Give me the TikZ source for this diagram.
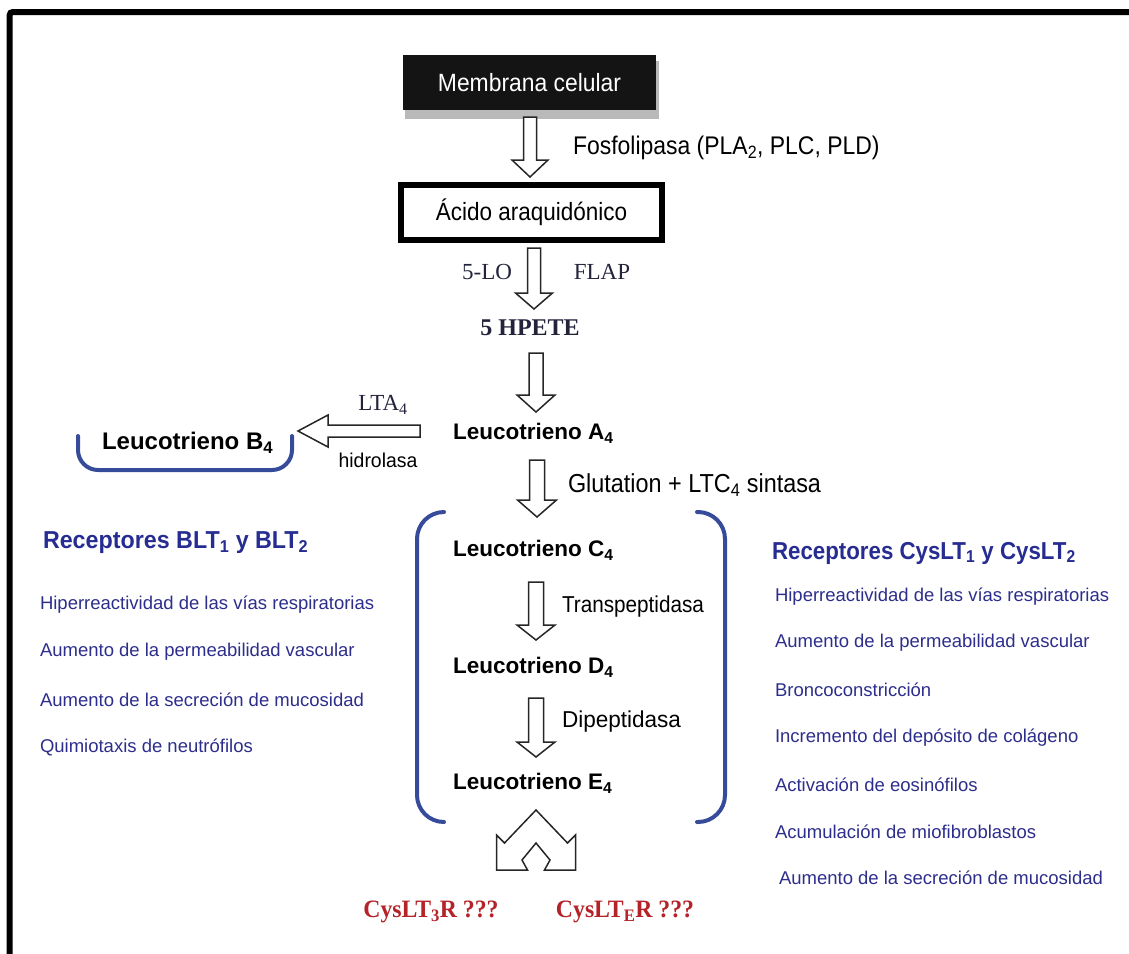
\documentclass[tikz,border=0pt]{standalone}
\usepackage{fontspec}
\setmainfont{Liberation Sans}
\newfontfamily\serifface{Liberation Serif}
\usetikzlibrary{calc}

\definecolor{itemblue}{RGB}{45,45,140}
\definecolor{headblue}{RGB}{38,44,145}
\definecolor{bracketblue}{RGB}{55,75,155}
\definecolor{darkred}{RGB}{180,35,40}
\definecolor{slate}{RGB}{35,35,60}

\newcommand\fs[1]{\fontsize{#1}{#1}\selectfont}
% horizontally narrowed text
\newcommand\narrow[2]{\scalebox{#1}[1]{#2}}

% hollow block arrow: #1 start, #2 tip, #3 shaft half width, #4 head half width, #5 head length
\newcommand\blockarrow[5]{%
  \coordinate (hbase) at ($(#2)!#5!(#1)$);
  \draw[blockline] ($(#1)!#3!90:(#2)$) -- ($(hbase)!#3!90:(#2)$) -- ($(hbase)!#4!90:(#2)$)
    -- (#2) -- ($(hbase)!#4!-90:(#2)$) -- ($(hbase)!#3!-90:(#2)$) -- ($(#1)!#3!-90:(#2)$) -- cycle;}

\tikzset{
  txt/.style={inner sep=0pt, outer sep=0pt},
  lt/.style={txt, anchor=west, font=\bfseries\fs{22.5}},
  enz/.style={txt, anchor=west, font=\fs{23}},
  item/.style={txt, anchor=west, text=itemblue, font=\fs{18.5}},
  head/.style={txt, anchor=west, text=headblue, font=\bfseries\fs{24.5}},
  tlabel/.style={txt, text=slate, font=\serifface\fs{23}},
  redlabel/.style={txt, text=darkred, font=\serifface\bfseries\fs{25}},
  blockline/.style={draw=black!85, line width=1.5pt, fill=white, line join=miter},
  bracket/.style={draw=bracketblue, line width=4pt, line cap=round, rounded corners=27pt},
}

\begin{document}
\begin{tikzpicture}[x=1pt, y=-1pt]
\useasboundingbox (0,0) rectangle (1129,953);

% outer frame, running past the right and bottom edges
\begin{scope}
  \clip (0,0) rectangle (1129,953);
  \draw[line width=6pt, rounded corners=3pt] (9.7,12) rectangle (1160,990);
\end{scope}

% top of the pathway
\fill[gray!55] (405,61) rectangle (659,119);
\node[fill=black!92, text=white, minimum width=253pt, minimum height=55pt, inner sep=0pt,
      font=\fs{25}] (mem) at (529.5,82.5) {\narrow{0.915}{Membrana celular}};
\node[txt, anchor=west, font=\fs{25.5}] (fosfo) at (573,148)
  {\narrow{0.9}{Fosfolipasa (PLA\textsubscript{2}, PLC, PLD)}};
\node[draw, line width=6pt, minimum width=261pt, minimum height=55pt, inner sep=0pt,
      font=\fs{25}] (acido) at (531.5,212.5) {\narrow{0.9}{Ácido araquidónico}};

\node[tlabel] (lo) at (487,272) {5-LO};
\node[tlabel] (flap) at (602,272) {FLAP};
\node[txt, text=slate, font=\serifface\bfseries\fs{24}] (hpete) at (530,328) {5 HPETE};

\node[lt] (la4) at (453,433) {Leucotrieno A\textsubscript{4}};
\node[tlabel] (lta) at (383,405) {LTA\textsubscript{4}};
\node[txt, font=\fs{20}] (hidro) at (378,460) {\narrow{0.97}{hidrolasa}};
\node[lt, font=\bfseries\fs{24}] (lb4) at (102,443) {Leucotrieno B\textsubscript{4}};

\node[txt, anchor=west, font=\fs{26}] (glut) at (568,485)
  {\narrow{0.9}{Glutation + LTC\textsubscript{4} sintasa}};
\node[lt] (lc4) at (453,550) {Leucotrieno C\textsubscript{4}};
\node[enz] (transp) at (562,607) {\narrow{0.9}{Transpeptidasa}};
\node[lt] (ld4) at (453,667) {Leucotrieno D\textsubscript{4}};
\node[enz] (dipep) at (562,722) {\narrow{0.98}{Dipeptidasa}};
\node[lt] (le4) at (453,783) {Leucotrieno E\textsubscript{4}};

\node[redlabel] (r3) at (431,912) {\narrow{0.95}{CysLT\textsubscript{3}R ???}};
\node[redlabel] (re) at (625,912) {\narrow{0.95}{CysLT\textsubscript{E}R ???}};

% block arrows between the stages
\coordinate (a1s) at (530,117);   \coordinate (a1t) at (530,177);
\coordinate (a2s) at (534,248);   \coordinate (a2t) at (534,309);
\coordinate (a3s) at (536,353);   \coordinate (a3t) at (536,412);
\coordinate (a4s) at (537,460);   \coordinate (a4t) at (537,517);
\coordinate (a5s) at (536,582);   \coordinate (a5t) at (536,640);
\coordinate (a6s) at (536,698);   \coordinate (a6t) at (536,757);
\coordinate (hs) at (420,431);    \coordinate (ht) at (298,431);
\blockarrow{a1s}{a1t}{6.5pt}{18pt}{17pt}
\blockarrow{a2s}{a2t}{6.5pt}{18.5pt}{16pt}
\blockarrow{a3s}{a3t}{7pt}{19pt}{17pt}
\blockarrow{a4s}{a4t}{7.5pt}{19.5pt}{17pt}
\blockarrow{a5s}{a5t}{7.5pt}{19pt}{15pt}
\blockarrow{a6s}{a6t}{7.5pt}{19pt}{15pt}
\blockarrow{hs}{ht}{6pt}{16pt}{30pt}

% forked arrow below leukotriene E4
\coordinate (fork) at (536,810);
\draw[blockline, shift={(fork)}] (0,0) -- (-31.5,33) -- (-39.5,25) -- (-39.5,60) -- (-8.5,60)
  -- (-14,50) -- (0,33) -- (14,50) -- (8.5,60) -- (39.5,60) -- (39.5,25) -- (31.5,33) -- cycle;

% blue brackets
\draw[bracket, rounded corners=20pt] (78,436) -- (78,470) -- (292,470) -- (292,436);
\draw[bracket] (444,512) -- (417,512) -- (417,822) -- (444,822);
\draw[bracket] (697,512) -- (725,512) -- (725,822) -- (697,822);

% receptor effects, left column
\node[head] (hl) at (43,543) {\narrow{0.95}{Receptores BLT\textsubscript{1} y BLT\textsubscript{2}}};
\node[item] (l1) at (40,605) {Hiperreactividad de las vías respiratorias};
\node[item] (l2) at (40,652) {Aumento de la permeabilidad vascular};
\node[item] (l3) at (40,700) {Aumento de la secreción de mucosidad};
\node[item] (l4) at (40,747) {Quimiotaxis de neutrófilos};

% receptor effects, right column
\node[head] (hr) at (772,553) {\narrow{0.91}{Receptores CysLT\textsubscript{1} y CysLT\textsubscript{2}}};
\node[item] (r1) at (775,597) {Hiperreactividad de las vías respiratorias};
\node[item] (r2) at (775,643) {Aumento de la permeabilidad vascular};
\node[item] (r3b) at (775,690) {Broncoconstricción};
\node[item] (r4) at (775,738) {Incremento del depósito de colágeno};
\node[item] (r5) at (775,785) {Activación de eosinófilos};
\node[item] (r6) at (775,832) {Acumulación de miofibroblastos};
\node[item] (r7) at (779,878) {Aumento de la secreción de mucosidad};
\end{tikzpicture}
\end{document}
